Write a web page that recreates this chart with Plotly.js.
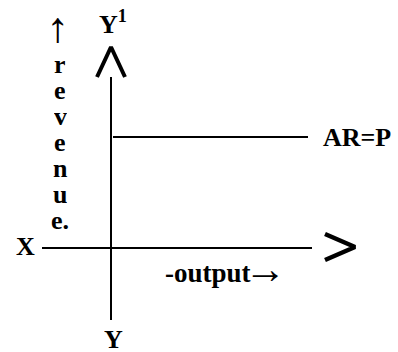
<!DOCTYPE html>
<html>
<head>
<meta charset="utf-8">
<script src="https://cdn.plot.ly/plotly-3.0.1.min.js"></script>
<style>html,body{margin:0;padding:0;background:#fff;}#chart{width:398px;height:352px;}</style>
</head>
<body>
<div id="chart"></div>
<script>
// Diagram values (origin of the diagram at the axes crossing)
const xAxisExtent = [-69, 201];      // horizontal axis X ... >
const yAxisExtent = [-72, 171];      // vertical axis Y ... Y1
const arLevel = 111;                 // AR = P price level
const arExtent = [2, 197];           // horizontal AR line extent
const xArrowHead = {x: [214, 244, 214], y: [14, 1, -12]};   // ">"
const yArrowHead = {x: [-14, 0, 14], y: [171, 201, 171]};   // "Λ"
const revenueLetters = ['r', 'e', 'v', 'e', 'n', 'u', 'e.'];

const black = '#000';
const font = (size) => ({family: 'Liberation Serif, Times New Roman, serif', size: size, color: black, weight: 'bold'});

const traces = [
  {x: xAxisExtent, y: [0, 0], mode: 'lines', line: {color: black, width: 2}},
  {x: [0, 0], y: yAxisExtent, mode: 'lines', line: {color: black, width: 2}},
  {x: arExtent, y: [arLevel, arLevel], mode: 'lines', line: {color: black, width: 2}},
  {x: xArrowHead.x, y: xArrowHead.y, mode: 'lines', line: {color: black, width: 4.5}},
  {x: yArrowHead.x, y: yArrowHead.y, mode: 'lines', line: {color: black, width: 4}}
].map(t => Object.assign(t, {hoverinfo: 'skip', showlegend: false}));

const annotations = [
  {x: 2, y: 226, text: 'Y<sup>1</sup>', font: font(26)},
  {x: 210, y: arLevel, text: 'AR=P', xanchor: 'left', font: font(26)},
  {x: -86, y: 2, text: 'X', font: font(26)},
  {x: 52, y: -25, text: '-output', xanchor: 'left', font: font(27)},
  {x: 154, y: -21, text: '→', font: font(42), height: 26},
  {x: 2, y: -91, text: 'Y', font: font(26), height: 24},
  {x: -54, y: 220, text: '↑', font: font(46), height: 30}
];
revenueLetters.forEach((ch, i) => {
  annotations.push({x: -51, y: 184 - i * 26, text: ch, xanchor: 'center', font: font(26), height: 24});
});
annotations.forEach(a => { a.showarrow = false; if (!a.xanchor) a.xanchor = 'center'; a.yanchor = 'middle'; });

const layout = {
  width: 398, height: 352,
  margin: {l: 0, r: 0, t: 0, b: 0, pad: 0},
  paper_bgcolor: '#fff', plot_bgcolor: '#fff',
  xaxis: {range: [-111, 287], visible: false, fixedrange: true},
  yaxis: {range: [-104, 248], visible: false, fixedrange: true},
  annotations: annotations,
  showlegend: false
};
Plotly.newPlot('chart', traces, layout, {staticPlot: true, displayModeBar: false});
</script>
</body>
</html>
